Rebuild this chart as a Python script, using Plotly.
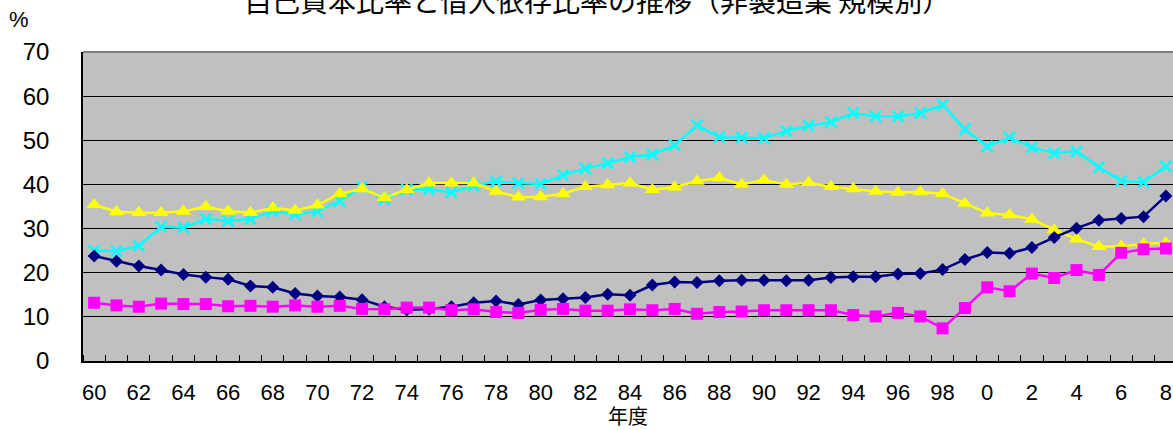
import plotly.graph_objects as go

# 年度（1960〜2008）
years = list(range(1960, 2009))
tick_years = list(range(1960, 2009, 2))
tick_text = [str(y % 100) for y in tick_years]

# 自己資本比率（大企業）
equity_large = [23.8, 22.6, 21.5, 20.6, 19.6, 19.0, 18.5, 17.0, 16.7, 15.3,
                14.7, 14.5, 13.9, 12.3, 11.6, 11.8, 12.3, 13.2, 13.6, 12.8,
                13.8, 14.1, 14.4, 15.1, 14.9, 17.2, 17.9, 17.8, 18.2, 18.3,
                18.3, 18.2, 18.3, 18.9, 19.1, 19.1, 19.7, 19.8, 20.7, 23.0,
                24.6, 24.4, 25.7, 28.0, 30.1, 31.9, 32.3, 32.7, 37.4]
# 自己資本比率（中小企業）
equity_small = [13.2, 12.6, 12.3, 13.0, 12.9, 12.9, 12.4, 12.5, 12.3, 12.6,
                12.3, 12.5, 11.8, 11.7, 12.1, 12.1, 11.5, 11.7, 11.1, 10.9,
                11.6, 11.8, 11.4, 11.4, 11.7, 11.5, 11.8, 10.7, 11.1, 11.2,
                11.5, 11.5, 11.5, 11.5, 10.4, 10.1, 10.9, 10.1, 7.4, 12.0,
                16.7, 15.8, 19.8, 18.8, 20.6, 19.5, 24.5, 25.3, 25.5]
# 借入依存比率（大企業）
borrow_large = [35.4, 33.8, 33.6, 33.6, 33.9, 35.0, 33.9, 33.6, 34.7, 34.1,
                35.3, 37.9, 39.0, 37.0, 38.8, 40.3, 40.3, 40.3, 38.4, 37.1,
                37.2, 37.9, 39.5, 39.9, 40.3, 38.8, 39.4, 40.7, 41.5, 40.0,
                41.0, 40.0, 40.4, 39.5, 39.0, 38.4, 38.2, 38.3, 37.9, 35.7,
                33.5, 33.1, 32.1, 29.7, 27.6, 25.9, 26.0, 26.5, 26.8]
# 借入依存比率（中小企業）
borrow_small = [25.0, 24.9, 26.1, 30.4, 30.2, 32.2, 31.7, 32.2, 33.9, 33.2,
                33.9, 36.3, 39.4, 36.6, 38.8, 38.9, 38.2, 39.7, 40.7, 40.3,
                40.1, 42.1, 43.6, 44.8, 46.2, 46.8, 48.9, 53.4, 50.7, 50.6,
                50.5, 52.1, 53.3, 54.1, 56.2, 55.4, 55.4, 56.2, 58.0, 52.5,
                48.6, 50.6, 48.4, 47.1, 47.5, 43.9, 40.8, 40.5, 44.1]

TEXT_FONT = "Liberation Sans, Arial, Noto Sans CJK JP, sans-serif"
CJK_FONT = "Noto Sans CJK JP, sans-serif"

fig = go.Figure()

series = [
    ("借入依存比率（中小企業）", borrow_small, "#00FFFF",
     dict(symbol="x-thin", size=11, line=dict(width=2.5, color="#00FFFF"))),
    ("借入依存比率（大企業）", borrow_large, "#FFFF00",
     dict(symbol="triangle-up", size=13.5)),
    ("自己資本比率（大企業）", equity_large, "#000080",
     dict(symbol="diamond", size=10)),
    ("自己資本比率（中小企業）", equity_small, "#FF00FF",
     dict(symbol="square", size=12)),
]
for name, vals, color, marker in series:
    m = dict(color=color, **marker)
    fig.add_trace(go.Scatter(
        x=years, y=vals, name=name, mode="lines+markers",
        line=dict(color=color, width=2.5), marker=m,
        cliponaxis=False,
    ))

fig.update_layout(
    width=1173, height=430,
    margin=dict(l=83, r=0, t=52, b=69),
    paper_bgcolor="white",
    plot_bgcolor="#C0C0C0",
    showlegend=False,
    font=dict(family=TEXT_FONT, color="black", size=20),
    annotations=[
        dict(text="自己資本比率と借入依存比率の推移（非製造業 規模別）",
             xref="paper", yref="paper", x=514 / 1090, y=1 + 52 / 309,
             xanchor="center", yanchor="middle", showarrow=False,
             font=dict(size=28, family=CJK_FONT)),
        dict(text="%", xref="paper", yref="paper",
             x=-64 / 1090, y=1 + 33 / 309, xanchor="center", yanchor="middle",
             showarrow=False, font=dict(size=22)),
    ],
    shapes=[
        dict(type="line", xref="paper", yref="paper", x0=0, x1=1, y0=1, y1=1,
             line=dict(color="#808080", width=2), layer="above"),
    ],
)

fig.update_xaxes(
    range=[1959.5, 2008.32],
    tickmode="array", tickvals=tick_years, ticktext=tick_text,
    ticks="", ticklabelstandoff=11,
    tickfont=dict(size=22),
    showgrid=False, zeroline=False,
    showline=True, linecolor="black", linewidth=2,
    minor=dict(tickmode="linear", tick0=1959.5, dtick=1, ticks="inside",
               ticklen=6, tickcolor="black", tickwidth=1, showgrid=False),
    title=dict(text="年度", standoff=8,
               font=dict(size=20, family=CJK_FONT)),
)

fig.update_yaxes(
    range=[0, 70], tickmode="linear", tick0=0, dtick=10,
    ticks="inside", ticklen=8, tickcolor="black",
    ticklabelstandoff=27,
    tickfont=dict(size=24),
    showgrid=True, gridcolor="black", gridwidth=1,
    zeroline=False,
    showline=True, linecolor="black", linewidth=1.5,
)

fig.write_html("out.html")
